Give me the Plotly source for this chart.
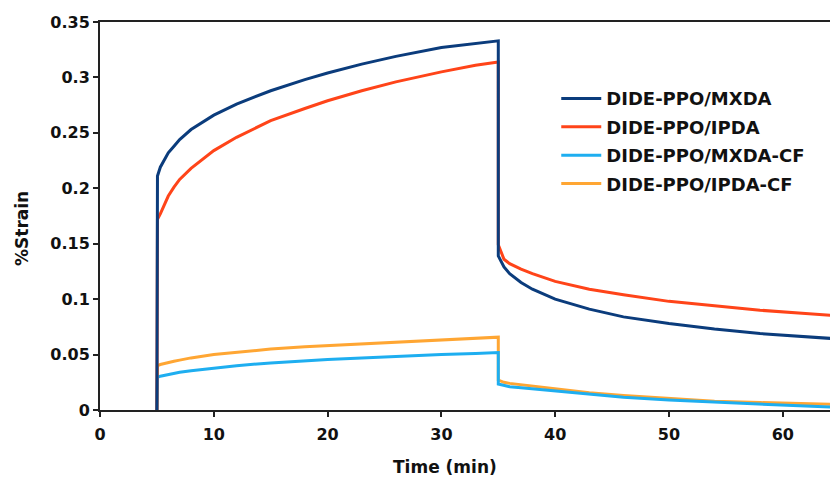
import plotly.graph_objects as go

# Time points (min)
t_start = [5]
t_creep = [5, 5.05, 5.3, 6, 6.5, 7, 8, 10, 12, 15, 18, 20, 23, 26, 30, 33, 35]
t_rec = [35, 35.5, 36, 37, 38, 40, 43, 46, 50, 54, 58, 62, 65]

# %Strain values
mxda_creep = [0.203, 0.211, 0.219, 0.232, 0.238, 0.244, 0.253, 0.266, 0.276, 0.288, 0.298, 0.304, 0.312, 0.319, 0.327, 0.331, 0.333]
mxda_rec = [0.139, 0.129, 0.123, 0.115, 0.109, 0.100, 0.091, 0.084, 0.078, 0.073, 0.069, 0.066, 0.064]

ipda_creep = [0.170, 0.172, 0.177, 0.193, 0.201, 0.208, 0.218, 0.234, 0.246, 0.261, 0.272, 0.279, 0.288, 0.296, 0.305, 0.311, 0.314]
ipda_rec = [0.149, 0.136, 0.132, 0.127, 0.123, 0.116, 0.109, 0.104, 0.098, 0.094, 0.090, 0.087, 0.085]

mxdacf_creep = [0.028, 0.0295, 0.0305, 0.032, 0.033, 0.034, 0.0355, 0.038, 0.040, 0.0425, 0.0445, 0.0455, 0.047, 0.0485, 0.050, 0.051, 0.0518]
mxdacf_rec = [0.0235, 0.022, 0.021, 0.020, 0.019, 0.017, 0.014, 0.0115, 0.009, 0.007, 0.005, 0.0035, 0.0025]

ipdacf_creep = [0.038, 0.040, 0.041, 0.043, 0.044, 0.045, 0.047, 0.050, 0.052, 0.055, 0.057, 0.058, 0.060, 0.0615, 0.063, 0.0645, 0.0657]
ipdacf_rec = [0.027, 0.025, 0.024, 0.0228, 0.021, 0.019, 0.0155, 0.013, 0.0105, 0.008, 0.0067, 0.0058, 0.005]

names = ["DIDE-PPO/MXDA", "DIDE-PPO/IPDA", "DIDE-PPO/MXDA-CF", "DIDE-PPO/IPDA-CF"]
colors = ["#0B3C7C", "#FF4419", "#1EAEF0", "#FFA633"]
creeps = [mxda_creep, ipda_creep, mxdacf_creep, ipdacf_creep]
recs = [mxda_rec, ipda_rec, mxdacf_rec, ipdacf_rec]

x_all = t_start + t_creep + t_rec

fig = go.Figure()
for i in [3, 2, 1, 0]:
    y_all = [0] + creeps[i] + recs[i]
    fig.add_trace(go.Scatter(
        x=x_all, y=y_all, mode="lines", name=names[i],
        line=dict(color=colors[i], width=3),
        legendrank=i + 1, legendgroup=names[i],
    ))

font_family = "DejaVu Sans"
tick_font = dict(size=16, family=font_family, weight="bold", color="#111")
title_font = dict(size=17, family=font_family, weight="bold", color="#111")
fig.update_layout(
    width=830, height=477,
    margin=dict(l=100, r=0, t=22, b=67),
    paper_bgcolor="white", plot_bgcolor="white",
    font=dict(family=font_family, color="#1a1a1a"),
    showlegend=True,
    legend=dict(
        x=0.625, y=0.85, xanchor="left", yanchor="top",
        font=dict(size=18, family=font_family, weight="bold", color="#111"),
        bgcolor="rgba(0,0,0,0)", itemwidth=40,
        traceorder="grouped", tracegroupgap=2,
    ),
    xaxis=dict(
        range=[0, 64.15], tickvals=[0, 10, 20, 30, 40, 50, 60],
        showgrid=False, zeroline=False,
        showline=True, linecolor="#222", linewidth=2, mirror=True,
        ticks="outside", ticklen=5, tickwidth=1.5, tickcolor="#222",
        tickfont=tick_font, ticklabelstandoff=4,
    ),
    yaxis=dict(
        range=[0, 0.35], tickvals=[0, 0.05, 0.1, 0.15, 0.2, 0.25, 0.3, 0.35],
        ticktext=["0", "0.05", "0.1", "0.15", "0.2", "0.25", "0.3", "0.35"],
        showgrid=False, zeroline=False,
        showline=True, linecolor="#222", linewidth=2,
        ticks="outside", ticklen=5, tickwidth=1.5, tickcolor="#222",
        tickfont=tick_font,
    ),
    annotations=[
        dict(text="Time (min)", x=445, y=467, xref="paper", yref="paper",
             showarrow=False, font=title_font),
        dict(text="%Strain", x=22, y=229, xref="paper", yref="paper", textangle=-90,
             showarrow=False, font=title_font),
    ],
)

# convert annotation pixel positions to paper coords
pl, pr, pt, pb = 100, 830, 22, 410
for a in fig.layout.annotations:
    px, py = a.x, a.y
    a.x = (px - pl) / (pr - pl)
    a.y = (pb - py) / (pb - pt)
    a.xanchor = "center"
    a.yanchor = "middle"

fig.write_html("out.html")
